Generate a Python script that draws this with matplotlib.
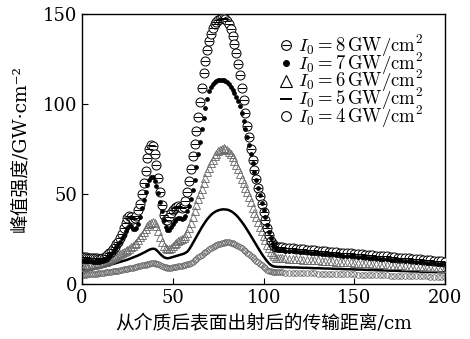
import numpy as np
import matplotlib
matplotlib.use('Agg')
import matplotlib.pyplot as plt
from matplotlib.lines import Line2D

plt.rcParams['mathtext.fontset'] = 'cm'
plt.rcParams['font.family'] = ['DejaVu Serif', 'Noto Sans CJK SC']

# propagation distance (cm): 1 cm steps up to 110, 2 cm steps in the tail
distance = np.concatenate([np.arange(0, 111), np.arange(112, 201, 2)])

peak_8 = [
    15.0, 14.9, 14.8, 14.7, 14.6, 14.5, 14.4, 14.3, 14.2, 14.1,
    14.0, 14.2, 14.6, 15.2, 16.0, 17.0, 18.0, 19.3, 20.6, 22.0,
    23.6, 25.5, 28.0, 31.0, 34.0, 36.5, 38.0, 37.5, 36.0, 36.5,
    38.0, 41.0, 44.5, 50.0, 56.0, 63.0, 70.0, 75.0, 77.5, 76.5,
    72.5, 66.0, 59.0, 51.0, 44.0, 38.5, 35.5, 35.5, 37.5, 39.5,
    41.0, 42.5, 43.0, 43.2, 43.0, 42.5, 43.0, 46.0, 51.0, 57.0,
    64.0, 71.0, 78.0, 85.0, 93.0, 101.0, 109.0, 117.0, 124.0, 130.0,
    135.0, 139.0, 142.0, 144.2, 145.7, 146.7, 147.3, 147.6, 147.6, 147.2,
    146.2, 144.4, 141.5, 138.0, 133.5, 128.5, 122.5, 116.0, 109.0, 102.0,
    95.0, 88.0, 81.5, 75.0, 69.0, 63.5, 58.5, 53.5, 49.0, 44.5,
    40.0, 35.5, 31.0, 27.0, 24.0, 22.2, 21.2, 20.7, 20.5, 20.4, 20.3,
    20.1, 19.9, 19.8, 19.6, 19.4, 19.2, 19.1, 18.9, 18.7, 18.5,
    18.4, 18.2, 18.0, 17.9, 17.7, 17.5, 17.3, 17.2, 17.0, 16.8,
    16.6, 16.5, 16.3, 16.1, 15.9, 15.8, 15.6, 15.4, 15.3, 15.1,
    14.9, 14.7, 14.6, 14.4, 14.2, 14.0, 13.9, 13.7, 13.5, 13.4,
    13.2, 13.0, 12.8, 12.7, 12.5,
]

peak_7 = [
    13.0, 13.0, 12.9, 12.8, 12.7, 12.6, 12.5, 12.4, 12.4, 12.5,
    12.6, 12.9, 13.3, 13.9, 14.7, 15.6, 16.6, 17.8, 19.2, 20.6,
    22.0, 23.6, 25.3, 27.2, 29.2, 31.0, 32.3, 32.0, 30.8, 30.3,
    31.0, 33.5, 37.5, 42.0, 46.5, 51.0, 55.0, 58.0, 59.5, 59.2,
    57.5, 54.5, 50.5, 45.5, 40.5, 35.5, 31.5, 29.8, 30.2, 31.8,
    33.5, 35.0, 36.2, 36.8, 36.8, 36.3, 36.5, 38.0, 40.5, 43.5,
    47.0, 52.0, 58.0, 65.0, 72.0, 79.0, 86.0, 92.0, 98.0, 103.0,
    107.0, 109.5, 111.0, 112.0, 112.8, 113.2, 113.4, 113.4, 113.1, 112.6,
    112.0, 111.0, 109.5, 108.0, 106.0, 104.0, 101.5, 99.0, 95.0, 90.5,
    86.0, 81.5, 77.0, 72.0, 67.0, 62.5, 58.0, 53.5, 49.5, 45.0,
    41.0, 37.0, 33.0, 29.0, 25.5, 22.5, 20.3, 19.2, 18.9, 18.8, 18.7,
    18.6, 18.4, 18.3, 18.1, 17.9, 17.7, 17.6, 17.4, 17.2, 17.0,
    16.9, 16.7, 16.5, 16.4, 16.2, 16.0, 15.8, 15.7, 15.5, 15.3,
    15.1, 15.0, 14.8, 14.6, 14.5, 14.3, 14.1, 13.9, 13.8, 13.6,
    13.4, 13.2, 13.1, 12.9, 12.7, 12.6, 12.4, 12.2, 12.0, 11.9,
    11.7, 11.5, 11.3, 11.2, 11.0,
]

peak_6 = [
    9.5, 9.7, 9.9, 10.1, 10.3, 10.5, 10.7, 10.9, 11.1, 11.3,
    11.5, 11.8, 12.1, 12.5, 12.9, 13.4, 13.9, 14.4, 14.9, 15.4,
    16.0, 16.6, 17.2, 17.8, 18.4, 19.0, 19.7, 20.4, 21.2, 22.0,
    23.0, 24.5, 26.0, 27.5, 29.0, 30.5, 32.0, 33.2, 34.0, 34.3,
    33.8, 32.0, 29.3, 26.3, 23.5, 21.3, 19.8, 19.2, 19.3, 20.0,
    21.0, 22.0, 23.0, 23.8, 24.5, 25.0, 25.5, 26.5, 28.5, 31.0,
    34.0, 37.0, 40.5, 44.0, 47.0, 50.0, 53.0, 56.0, 59.0, 62.0,
    64.5, 67.0, 69.0, 71.0, 72.5, 73.7, 74.6, 75.1, 75.3, 75.1,
    74.3, 73.2, 72.0, 70.5, 68.5, 66.2, 63.7, 61.0, 58.5, 56.0,
    53.5, 51.0, 48.5, 45.5, 42.5, 39.5, 37.0, 34.3, 31.8, 29.2,
    26.7, 24.2, 21.8, 19.8, 18.0, 16.5, 15.3, 14.7, 14.5, 14.4, 14.3,
    14.2, 14.1, 14.0, 13.8, 13.7, 13.6, 13.5, 13.4, 13.2, 13.1,
    13.0, 12.9, 12.8, 12.6, 12.5, 12.4, 12.3, 12.2, 12.0, 11.9,
    11.8, 11.7, 11.6, 11.4, 11.3, 11.2, 11.1, 11.0, 10.8, 10.7,
    10.6, 10.5, 10.4, 10.2, 10.1, 10.0, 9.9, 9.8, 9.6, 9.5,
    9.4, 9.3, 9.2, 9.1, 9.0,
]

peak_5 = [
    7.5, 7.6, 7.7, 7.8, 7.9, 8.0, 8.2, 8.4, 8.6, 8.8,
    9.0, 9.3, 9.6, 9.9, 10.2, 10.5, 10.8, 11.1, 11.4, 11.7,
    12.0, 12.3, 12.6, 12.9, 13.2, 13.5, 13.9, 14.3, 14.7, 15.1,
    15.5, 15.9, 16.4, 16.9, 17.4, 17.9, 18.5, 19.0, 19.4, 19.6,
    19.5, 18.9, 17.9, 16.8, 15.8, 15.0, 14.5, 14.3, 14.4, 14.7,
    15.0, 15.3, 15.6, 15.9, 16.2, 16.5, 16.8, 17.3, 18.0, 19.2,
    20.8, 22.6, 24.4, 26.2, 28.0, 29.8, 31.5, 33.1, 34.6, 36.0,
    37.2, 38.3, 39.2, 39.9, 40.5, 40.9, 41.2, 41.4, 41.5, 41.4,
    41.3, 41.0, 40.5, 39.9, 39.1, 38.2, 37.1, 35.9, 34.6, 33.2,
    31.7, 30.1, 28.5, 26.8, 25.1, 23.4, 21.7, 20.0, 18.4, 16.8,
    15.3, 13.9, 12.6, 11.5, 10.6, 10.0, 9.7, 9.6, 9.5, 9.5, 9.4,
    9.4, 9.3, 9.2, 9.2, 9.1, 9.0, 9.0, 8.9, 8.8, 8.8,
    8.7, 8.6, 8.6, 8.5, 8.4, 8.4, 8.3, 8.2, 8.2, 8.1,
    8.0, 8.0, 7.9, 7.8, 7.8, 7.7, 7.6, 7.6, 7.5, 7.4,
    7.4, 7.3, 7.2, 7.2, 7.1, 7.0, 7.0, 6.9, 6.8, 6.8,
    6.7, 6.6, 6.6, 6.5, 6.5,
]

peak_4 = [
    5.0, 5.1, 5.2, 5.3, 5.4, 5.5, 5.6, 5.7, 5.8, 5.9,
    6.0, 6.1, 6.3, 6.4, 6.6, 6.7, 6.9, 7.0, 7.2, 7.3,
    7.5, 7.7, 7.9, 8.1, 8.3, 8.5, 8.7, 8.9, 9.1, 9.3,
    9.5, 9.8, 10.0, 10.3, 10.5, 10.8, 11.0, 11.3, 11.5, 11.6,
    11.5, 11.3, 10.9, 10.4, 9.9, 9.5, 9.2, 9.0, 9.0, 9.1,
    9.3, 9.5, 9.7, 9.9, 10.1, 10.2, 10.4, 10.6, 10.9, 11.3,
    11.8, 12.5, 13.2, 14.0, 14.8, 15.5, 16.3, 17.0, 17.8, 18.5,
    19.2, 19.8, 20.4, 21.0, 21.5, 22.0, 22.4, 22.8, 23.0, 23.2,
    23.2, 23.1, 22.9, 22.6, 22.2, 21.7, 21.1, 20.5, 19.8, 19.0,
    18.2, 17.4, 16.6, 15.7, 14.8, 13.9, 13.0, 12.1, 11.2, 10.3,
    9.5, 8.7, 8.0, 7.4, 7.0, 6.7, 6.6, 6.5, 6.5, 6.4, 6.4,
    6.3, 6.3, 6.2, 6.2, 6.1, 6.1, 6.0, 5.9, 5.9, 5.8,
    5.8, 5.7, 5.7, 5.6, 5.6, 5.5, 5.4, 5.4, 5.3, 5.3,
    5.2, 5.2, 5.1, 5.1, 5.0, 4.9, 4.9, 4.8, 4.8, 4.7,
    4.7, 4.6, 4.6, 4.5, 4.4, 4.4, 4.3, 4.3, 4.2, 4.2,
    4.1, 4.1, 4.0, 4.0, 4.0,
]

intensities = [8, 7, 6, 5, 4]
labels = [r'$I_0 = %d\,\mathrm{GW/cm^2}$' % v for v in intensities]

fig = plt.figure(figsize=(4.70, 3.39), dpi=100)
ax = fig.add_axes([0.1745, 0.1622, 0.7723, 0.7965])

ax.plot(distance, peak_4, 'o', ms=4, mfc='none', mec='0.4', mew=0.6, zorder=2)
ax.plot(distance, peak_5, '-', color='black', lw=1.8, zorder=3)
ax.plot(distance, peak_6, '^', ms=5.5, mfc='none', mec='0.4', mew=0.6, zorder=3)
ax.plot(distance, peak_8, 'o', ms=6.5, mfc='white', mec='black', mew=0.7, zorder=4)
ax.plot(distance, peak_8, '_', ms=5.5, color='black', mew=0.7, zorder=4)
ax.plot(distance, peak_7, 'o', ms=2.4, color='black', zorder=5)

handles = [
    (Line2D([], [], ls='none', marker='o', ms=7, mfc='white', mec='black', mew=0.8),
     Line2D([], [], ls='none', marker='_', ms=6, color='black', mew=0.8)),
    Line2D([], [], ls='none', marker='o', ms=4, color='black'),
    Line2D([], [], ls='none', marker='^', ms=8, mfc='none', mec='black', mew=0.8),
    Line2D([], [], ls='none', marker='_', ms=9, color='black', mew=1.4),
    Line2D([], [], ls='none', marker='o', ms=7, mfc='none', mec='black', mew=0.8),
]
ax.legend(handles, labels, loc='upper right', bbox_to_anchor=(0.94, 0.93),
          frameon=False, fontsize=13.5, handlelength=0.8, handletextpad=0.25,
          labelspacing=-0.45, borderpad=0, borderaxespad=0)

ax.set_xlim(0, 200)
ax.set_ylim(0, 150)
ax.set_xticks([0, 50, 100, 150, 200])
ax.set_yticks([0, 50, 100, 150])
ax.tick_params(direction='in', length=4, width=0.8, labelsize=13,
               top=False, right=False)
for side in ax.spines.values():
    side.set_linewidth(1.0)

ax.set_xlabel('从介质后表面出射后的传输距离/cm', fontsize=13.5)
ax.set_ylabel('峰值强度/GW·cm⁻²', fontsize=13.5)
ax.xaxis.set_label_coords(0.5, -0.115)
ax.yaxis.set_label_coords(-0.145, 0.5)

fig.savefig('out.png', dpi=100)
